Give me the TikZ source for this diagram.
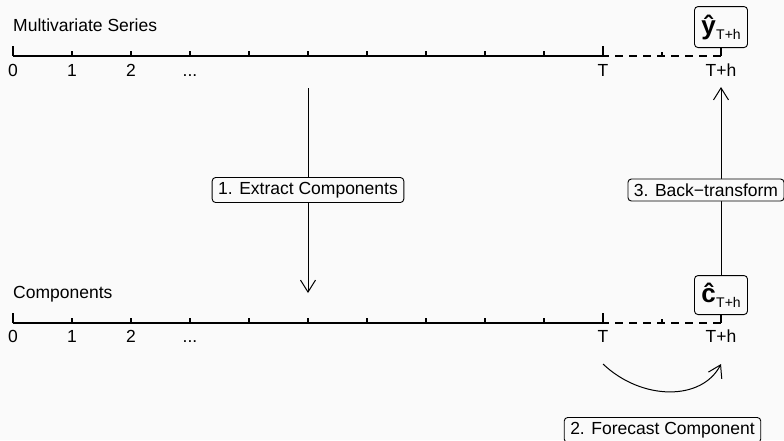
\documentclass[tikz,border=0pt]{standalone}
\usepackage{fontspec}
\setmainfont{Liberation Sans}
\usetikzlibrary{arrows.meta}
\definecolor{bg}{RGB}{250,250,250}
\newcommand\hatlabel[1]{{\bfseries\fontsize{26}{26}\selectfont #1}\hspace{0.5pt}\raisebox{-5pt}{\fontsize{14}{14}\selectfont T+h}}
\begin{document}
\begin{tikzpicture}[x=1pt,y=-1pt,
  axisline/.style={line width=1.6pt},
  tickline/.style={line width=1.3pt},
  dashline/.style={line width=1.4pt, dash pattern=on 8pt off 6pt, dash phase=2pt},
  lab/.style={font=\fontsize{17.5}{20}\selectfont, inner sep=0pt},
  stepbox/.style={draw, fill=bg, rounded corners=3.5pt, line width=0.9pt,
    font=\fontsize{17.5}{20}\selectfont, inner xsep=6pt, inner ysep=4.6pt},
  hatbox/.style={draw, fill=bg, rounded corners=3.5pt, line width=0.9pt,
    minimum width=53pt, inner sep=1pt},
  arr/.style={line width=1pt, -{Straight Barb[length=12pt,width=15pt,line width=1pt]}},
]
\useasboundingbox (0,0) rectangle (784,440);
\fill[bg] (0,0) rectangle (784,440);

% ---------- top axis ----------
\foreach \i in {0,...,10} \coordinate (a\i) at (13+59*\i,56);
\coordinate (am) at (662,56);
\coordinate (ah) at (721,56);
\draw[axisline] (a0) -- (a10);
\draw[dashline] (a10) -- (ah);
\draw[tickline] (a0) -- ++(0,-10);
\foreach \i in {1,...,9} \draw[tickline] (a\i) -- ++(0,-5);
\draw[tickline] ([yshift=-1pt]a10) -- ++(0,-11);
\draw[tickline] (am) -- ++(0,-4);

\node[lab, anchor=base west] (title1) at (13,31) {Multivariate Series};
\node[lab, anchor=base] (t0) at (13,76) {0};
\node[lab, anchor=base] (t1) at (72,76) {1};
\node[lab, anchor=base] (t2) at (131,76) {2};
\node[lab, anchor=base] (t3) at (190,76) {...};
\node[lab, anchor=base] (tT) at (603,76) {T};
\node[lab, anchor=base] (tTh) at (721,76) {T+h};

\node[hatbox, anchor=south, minimum height=41pt] (yhat) at (721,48) {\hatlabel{ŷ}};
\draw[tickline] (yhat.south) -- (ah);

% ---------- bottom axis ----------
\foreach \i in {0,...,10} \coordinate (b\i) at (13+59*\i,323);
\coordinate (bm) at (662,323);
\coordinate (bh) at (721,323);
\draw[axisline] (b0) -- (b10);
\draw[dashline] (b10) -- (bh);
\draw[tickline] (b0) -- ++(0,-10);
\foreach \i in {1,...,9} \draw[tickline] (b\i) -- ++(0,-5);
\draw[tickline] ([yshift=-1pt]b10) -- ++(0,-11);
\draw[tickline] (bm) -- ++(0,-4);

\node[lab, anchor=base west] (title2) at (13,298) {Components};
\node[lab, anchor=base] (u0) at (13,342) {0};
\node[lab, anchor=base] (u1) at (72,342) {1};
\node[lab, anchor=base] (u2) at (131,342) {2};
\node[lab, anchor=base] (u3) at (190,342) {...};
\node[lab, anchor=base] (uT) at (603,342) {T};
\node[lab, anchor=base] (uTh) at (721,342) {T+h};

\node[hatbox, anchor=south, minimum height=39pt] (chat) at (721,315) {\hatlabel{ĉ}};
\draw[tickline] (chat.south) -- (bh);

% ---------- arrows ----------
\coordinate (e1s) at (308,88);
\coordinate (e1e) at (308,293);
\draw[arr] (e1s) -- (e1e);
\node[stepbox] (s1) at (308,190) {1. Extract Components};

\coordinate (e3e) at (721,87);
\draw[arr] (chat.north) -- (e3e);
\node[stepbox] (s3) at (706,190) {3. Back−transform};

\coordinate (e2s) at (603,364);
\coordinate (e2e) at (721,364);
\draw[arr] (e2s) .. controls (642,401) and (702,401) .. (e2e);
\node[stepbox] (s2) at (662.5,430) {2. Forecast Component};
\end{tikzpicture}
\end{document}
